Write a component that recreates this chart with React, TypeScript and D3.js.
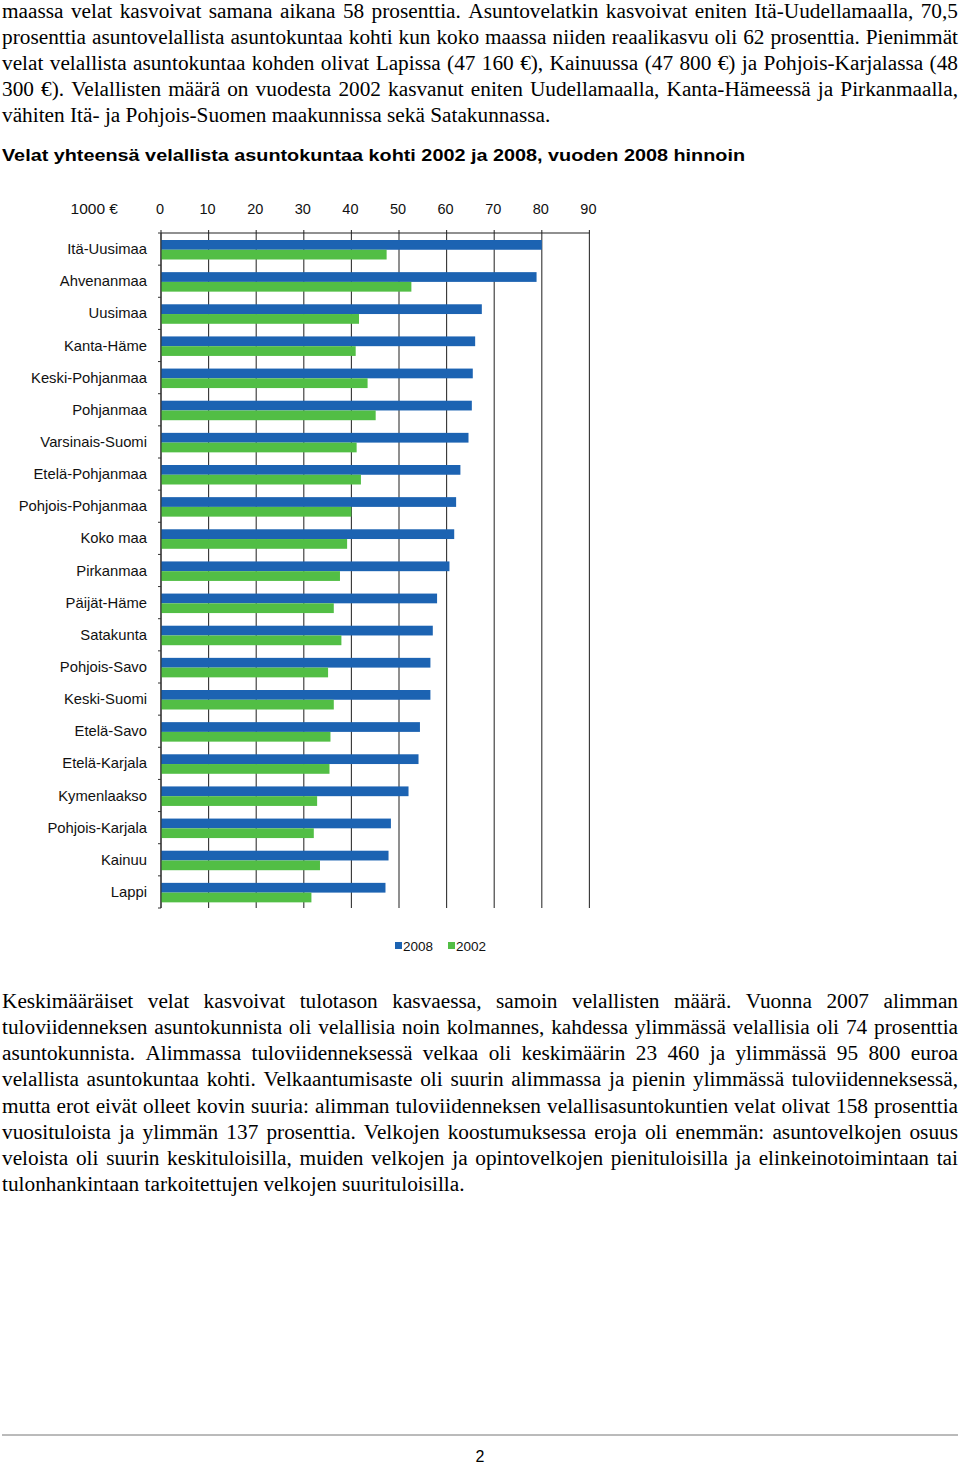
import React from "react";
import * as d3 from "d3";

const categories = [
  "Itä-Uusimaa", "Ahvenanmaa", "Uusimaa", "Kanta-Häme", "Keski-Pohjanmaa", "Pohjanmaa",
  "Varsinais-Suomi", "Etelä-Pohjanmaa", "Pohjois-Pohjanmaa", "Koko maa", "Pirkanmaa",
  "Päijät-Häme", "Satakunta", "Pohjois-Savo", "Keski-Suomi", "Etelä-Savo", "Etelä-Karjala",
  "Kymenlaakso", "Pohjois-Karjala", "Kainuu", "Lappi",
];
const values2008 = [80.0, 78.9, 67.4, 66.0, 65.5, 65.3, 64.6, 62.9, 62.0, 61.6, 60.6, 58.0, 57.1, 56.6, 56.6, 54.4, 54.1, 52.0, 48.3, 47.8, 47.16];
const values2002 = [47.4, 52.6, 41.6, 40.9, 43.4, 45.1, 41.1, 42.0, 40.0, 39.1, 37.6, 36.3, 37.9, 35.1, 36.3, 35.6, 35.4, 32.8, 32.1, 33.4, 31.6];
const seriesNames = ["2008", "2002"];
const xTicks = [0, 10, 20, 30, 40, 50, 60, 70, 80, 90];
const unitLabel = "1000 €";
const chartTitle = "Velat yhteensä velallista asuntokuntaa kohti 2002 ja 2008, vuoden 2008 hinnoin";

const topParagraph = [
  "maassa velat kasvoivat samana aikana 58 prosenttia. Asuntovelatkin kasvoivat eniten Itä-Uudellamaalla, 70,5",
  "prosenttia asuntovelallista asuntokuntaa kohti kun koko maassa niiden reaalikasvu oli 62 prosenttia. Pienimmät",
  "velat velallista asuntokuntaa kohden olivat Lapissa (47 160 €), Kainuussa (47 800 €) ja Pohjois-Karjalassa (48",
  "300 €). Velallisten määrä on vuodesta 2002 kasvanut eniten Uudellamaalla, Kanta-Hämeessä ja Pirkanmaalla,",
  "vähiten Itä- ja Pohjois-Suomen maakunnissa sekä Satakunnassa.",
];
const bottomParagraph = [
  "Keskimääräiset velat kasvoivat tulotason kasvaessa, samoin velallisten määrä. Vuonna 2007 alimman",
  "tuloviidenneksen asuntokunnista oli velallisia noin kolmannes, kahdessa ylimmässä velallisia oli 74 prosenttia",
  "asuntokunnista. Alimmassa tuloviidenneksessä velkaa oli keskimäärin 23 460 ja ylimmässä 95 800 euroa",
  "velallista asuntokuntaa kohti. Velkaantumisaste oli suurin alimmassa ja pienin ylimmässä tuloviidenneksessä,",
  "mutta erot eivät olleet kovin suuria: alimman tuloviidenneksen velallisasuntokuntien velat olivat 158 prosenttia",
  "vuosituloista ja ylimmän 137 prosenttia. Velkojen koostumuksessa eroja oli enemmän: asuntovelkojen osuus",
  "veloista oli suurin keskituloisilla, muiden velkojen ja opintovelkojen pienituloisilla ja elinkeinotoimintaan tai",
  "tulonhankintaan tarkoitettujen velkojen suurituloisilla.",
];
const pageNumber = "2";

const COLORS = ["#1c63b2", "#52be45"];
const SERIF = "'Liberation Serif', 'Times New Roman', serif";
const SANS = "'Liberation Sans', Arial, sans-serif";
const BODY_SIZE = 21.3;

let ctx: CanvasRenderingContext2D | null = null;
function measure(text: string, font: string): number {
  if (!ctx) ctx = document.createElement("canvas").getContext("2d");
  if (!ctx) return text.length * 9;
  ctx.font = font;
  return ctx.measureText(text).width;
}

function Paragraph({ lines, y0, lineH }: { lines: string[]; y0: number; lineH: number }) {
  const font = `${BODY_SIZE}px ${SERIF}`;
  const left = 2;
  const right = 958;
  const spaceW = measure(" ", font);
  return (
    <g fontFamily={SERIF} fontSize={BODY_SIZE} fill="#000">
      {lines.map((line, i) => {
        const words = line.split(" ");
        const widths = words.map((w) => measure(w, font));
        const total = d3.sum(widths);
        const last = i === lines.length - 1;
        const gap = last || words.length < 2 ? spaceW : (right - left - total) / (words.length - 1);
        let x = left;
        return (
          <text key={i} y={y0 + i * lineH}>
            {words.map((w, j) => {
              const t = <tspan key={j} x={x}>{w}</tspan>;
              x += widths[j] + gap;
              return t;
            })}
          </text>
        );
      })}
    </g>
  );
}

export default function App() {
  const x = d3.scaleLinear().domain([0, 90]).range([161, 589.4]);
  const y = d3.scaleBand<string>().domain(categories).range([233, 908]);
  const sub = d3.scaleBand<string>().domain(seriesNames).range([7, 26.5]);
  const series = [values2008, values2002];
  const top = 233;
  const bottom = 908;

  return (
    <svg width={960} height={1467} style={{ position: "absolute", left: 0, top: 0, display: "block" }}>
      <rect width={960} height={1467} fill="#fff" />
      <Paragraph lines={topParagraph} y0={18} lineH={26} />
      <text x={2} y={161} fontFamily={SANS} fontWeight="bold" fontSize={17} textLength={743} lengthAdjust="spacingAndGlyphs">
        {chartTitle}
      </text>

      {/* gridlines */}
      {xTicks.map((t) => (
        <line key={"g" + t} x1={x(t)} x2={x(t)} y1={top - 3} y2={bottom} stroke="#333" strokeWidth={1.1} />
      ))}
      <line x1={x(0)} x2={x(90)} y1={top} y2={top} stroke="#222" strokeWidth={1.2} />
      {/* left ticks */}
      {[...categories.map((c) => y(c) as number), bottom].map((yy, i) => (
        <line key={"lt" + i} x1={x(0) - 3} x2={x(0)} y1={yy} y2={yy} stroke="#333" />
      ))}

      {/* bars */}
      {series.map((vals, si) =>
        categories.map((c, i) => (
          <rect
            key={si + "-" + c}
            x={x(0)}
            y={(y(c) as number) + (sub(seriesNames[si]) as number)}
            width={x(vals[i]) - x(0)}
            height={sub.bandwidth()}
            fill={COLORS[si]}
          />
        ))
      )}
      <line x1={x(0)} x2={x(0)} y1={top} y2={bottom} stroke="#333" strokeWidth={1.1} />

      {/* x tick labels */}
      <g fontFamily={SANS} fontSize={14.5} fill="#111">
        {xTicks.map((t) => (
          <text key={"xt" + t} x={x(t) - 1} y={214} textAnchor="middle">{t}</text>
        ))}
        <text x={118} y={214} textAnchor="end" fontSize={15.5}>{unitLabel}</text>
        {categories.map((c) => (
          <text key={"cl" + c} x={147} y={(y(c) as number) + y.bandwidth() / 2 + 5} textAnchor="end" fontSize={14.8}>{c}</text>
        ))}
      </g>

      {/* legend */}
      <g fontFamily={SANS} fontSize={13.5} fill="#111">
        <rect x={395} y={942} width={7} height={7} fill={COLORS[0]} />
        <text x={403} y={951}>{seriesNames[0]}</text>
        <rect x={448} y={942} width={7} height={7} fill={COLORS[1]} />
        <text x={456} y={951}>{seriesNames[1]}</text>
      </g>

      <Paragraph lines={bottomParagraph} y0={1008} lineH={26.15} />

      <line x1={2} x2={958} y1={1435} y2={1435} stroke="#777" strokeWidth={1} />
      <text x={480} y={1462} textAnchor="middle" fontFamily={"'Liberation Sans Narrow', " + SANS} fontSize={16}>{pageNumber}</text>
    </svg>
  );
}
